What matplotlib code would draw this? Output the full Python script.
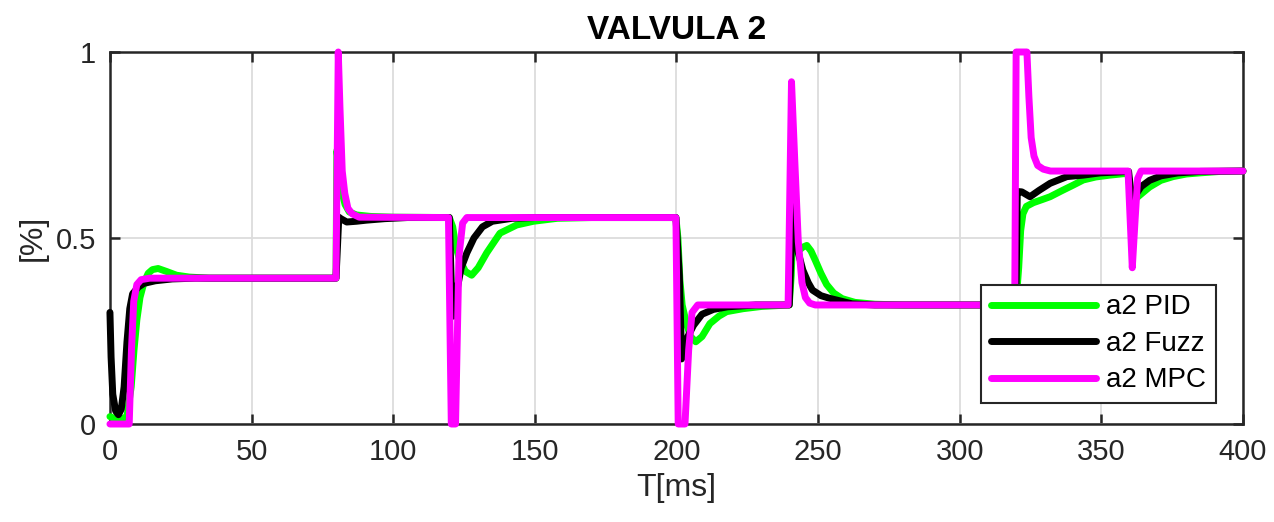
import matplotlib
matplotlib.use('Agg')
import matplotlib.pyplot as plt

# Valve 2 opening
t_pid = [0, 3, 6, 7.5, 8.5, 9.5, 10.6, 12, 13.5, 15, 17, 20, 23.5, 28, 35, 79.8,
         80.1, 81, 82, 83, 84.5, 87, 92, 100, 119.8,
         121, 122, 123.5, 125.5, 127.7, 130, 133, 137.7, 143.6, 149.5, 158, 170, 199.8,
         200.5, 201.2, 202, 203.5, 205, 206.8, 209, 211.8, 215, 217.7, 223.5, 230, 239.8,
         240.5, 241.2, 242, 243, 244.5, 246, 247.5, 249, 251, 253, 255.5, 258.5, 263, 270, 280, 319.8,
         320.8, 321.5, 322.3, 323.5, 326, 329, 331.9, 336, 340, 343.6, 348, 353, 359.3,
         360.8, 362, 364, 367, 371, 375.3, 380, 384.7, 392, 400]
y_pid = [0.02, 0.01, 0.02, 0.1, 0.2, 0.28, 0.34, 0.38, 0.405, 0.415, 0.418, 0.41, 0.4, 0.395, 0.392, 0.392,
         0.735, 0.68, 0.62, 0.59, 0.57, 0.562, 0.558, 0.556, 0.555,
         0.53, 0.48, 0.44, 0.41, 0.4, 0.42, 0.46, 0.513, 0.535, 0.545, 0.553, 0.555, 0.555,
         0.5, 0.387, 0.32, 0.27, 0.235, 0.221, 0.235, 0.27, 0.29, 0.302, 0.31, 0.316, 0.32,
         0.4, 0.55, 0.5, 0.465, 0.475, 0.48, 0.465, 0.44, 0.405, 0.375, 0.352, 0.337, 0.327, 0.322, 0.32, 0.32,
         0.42, 0.52, 0.565, 0.585, 0.595, 0.603, 0.611, 0.627, 0.642, 0.656, 0.664, 0.669, 0.674,
         0.6, 0.605, 0.618, 0.637, 0.655, 0.665, 0.672, 0.675, 0.679, 0.68]

t_fuzz = [0, 0.4, 1, 2, 3, 4, 5, 6, 7, 8, 10, 12, 16, 22, 30, 79.8,
          80.8, 81.5, 83.6, 87, 90.6, 97, 105, 119.8,
          120.6, 121.3, 122.5, 124, 126, 128.5, 131.5, 135, 142, 150, 199.8,
          201, 201.8, 202.8, 204, 206, 209, 213, 218, 228, 239.8,
          240.6, 241.2, 242, 243, 244.6, 246.5, 248, 251, 254, 262, 270, 319.8,
          320.3, 321.9, 324.8, 328, 331.9, 337.8, 343.6, 349.5, 359.6,
          360.8, 362, 364, 367, 371, 377, 385, 400]
y_fuzz = [0.3, 0.18, 0.08, 0.035, 0.025, 0.04, 0.1, 0.22, 0.31, 0.35, 0.368, 0.378, 0.385, 0.39, 0.392, 0.392,
          0.556, 0.552, 0.543, 0.545, 0.548, 0.552, 0.555, 0.555,
          0.35, 0.29, 0.36, 0.42, 0.46, 0.5, 0.53, 0.545, 0.553, 0.555, 0.555,
          0.4, 0.175, 0.2, 0.235, 0.265, 0.295, 0.308, 0.315, 0.32, 0.32,
          0.5, 0.6, 0.52, 0.46, 0.414, 0.38, 0.36, 0.345, 0.338, 0.323, 0.32, 0.32,
          0.625, 0.624, 0.611, 0.628, 0.647, 0.665, 0.669, 0.675, 0.679,
          0.6, 0.615, 0.638, 0.655, 0.667, 0.675, 0.679, 0.68]

t_mpc = [0, 6.8, 7.6, 8.4, 9.5, 11, 14, 79.8,
         80.6, 81.2, 82, 82.9, 84, 85.5, 88, 119.5,
         120.5, 122, 123.2, 124.5, 126, 199.8,
         200.6, 203, 204.3, 205.5, 207.5, 239.4,
         240.6, 241.8, 243, 244.3, 245.5, 247, 249, 319.4,
         319.9, 323.7, 324.4, 325.2, 326.2, 327.5, 329.5, 332, 359.4,
         360.9, 361.9, 362.8, 364, 400]
y_mpc = [0, 0, 0.2, 0.33, 0.375, 0.388, 0.392, 0.392,
         1.0, 0.85, 0.68, 0.62, 0.58, 0.565, 0.556, 0.555,
         0, 0, 0.45, 0.54, 0.555, 0.555,
         0, 0, 0.2, 0.3, 0.32, 0.32,
         0.92, 0.7, 0.49, 0.38, 0.34, 0.325, 0.32, 0.32,
         1.0, 1.0, 0.88, 0.77, 0.72, 0.695, 0.685, 0.68, 0.68,
         0.42, 0.55, 0.66, 0.68, 0.68]

labels = ['a2 PID', 'a2 Fuzz', 'a2 MPC']
colors = ['#00ff00', '#000000', '#ff00ff']
x_ticks = [0, 50, 100, 150, 200, 250, 300, 350, 400]
y_ticks = [0, 0.5, 1]
y_ticklabels = ['0', '0.5', '1']

plt.rcParams['font.family'] = ['Liberation Sans', 'DejaVu Sans']
ink = '#262626'

fig = plt.figure(figsize=(12.74, 5.22), dpi=100)
ax = fig.add_axes([0.0863, 0.1877, 0.8894, 0.7127])

series = [(t_pid, y_pid), (t_fuzz, y_fuzz), (t_mpc, y_mpc)]
for (t, y), lab, col in zip(series, labels, colors):
    ax.plot(t, y, color=col, lw=5.0, label=lab, clip_on=False,
            solid_joinstyle='round', solid_capstyle='round', zorder=3)

ax.set_xlim(0, 400)
ax.set_ylim(0, 1)
ax.set_xticks(x_ticks)
ax.set_yticks(y_ticks)
ax.set_yticklabels(y_ticklabels)
ax.grid(True, color='#dcdcdc', lw=1.3)
ax.set_axisbelow(True)
ax.tick_params(direction='in', length=7, width=1.8, colors=ink, labelsize=21,
               top=True, right=True, pad=10)
for s in ax.spines.values():
    s.set_color(ink)
    s.set_linewidth(1.8)
    s.set_zorder(2.5)

ax.set_title('VALVULA 2', fontsize=24, fontweight='bold', pad=9)
ax.set_xlabel('T[ms]', fontsize=23, color=ink, labelpad=5)
ax.set_ylabel('[%]', fontsize=23, color=ink, labelpad=6)

leg = ax.legend(loc='lower right', bbox_to_anchor=(0.976, 0.056), fontsize=20,
                frameon=True, fancybox=False, handlelength=3.8, borderpad=0.35,
                labelspacing=0.38, handletextpad=0.35, borderaxespad=0)
leg.get_frame().set_edgecolor(ink)
leg.get_frame().set_linewidth(1.5)
leg.get_frame().set_alpha(1)
leg.set_zorder(5)

fig.savefig('out.png', dpi=100)
